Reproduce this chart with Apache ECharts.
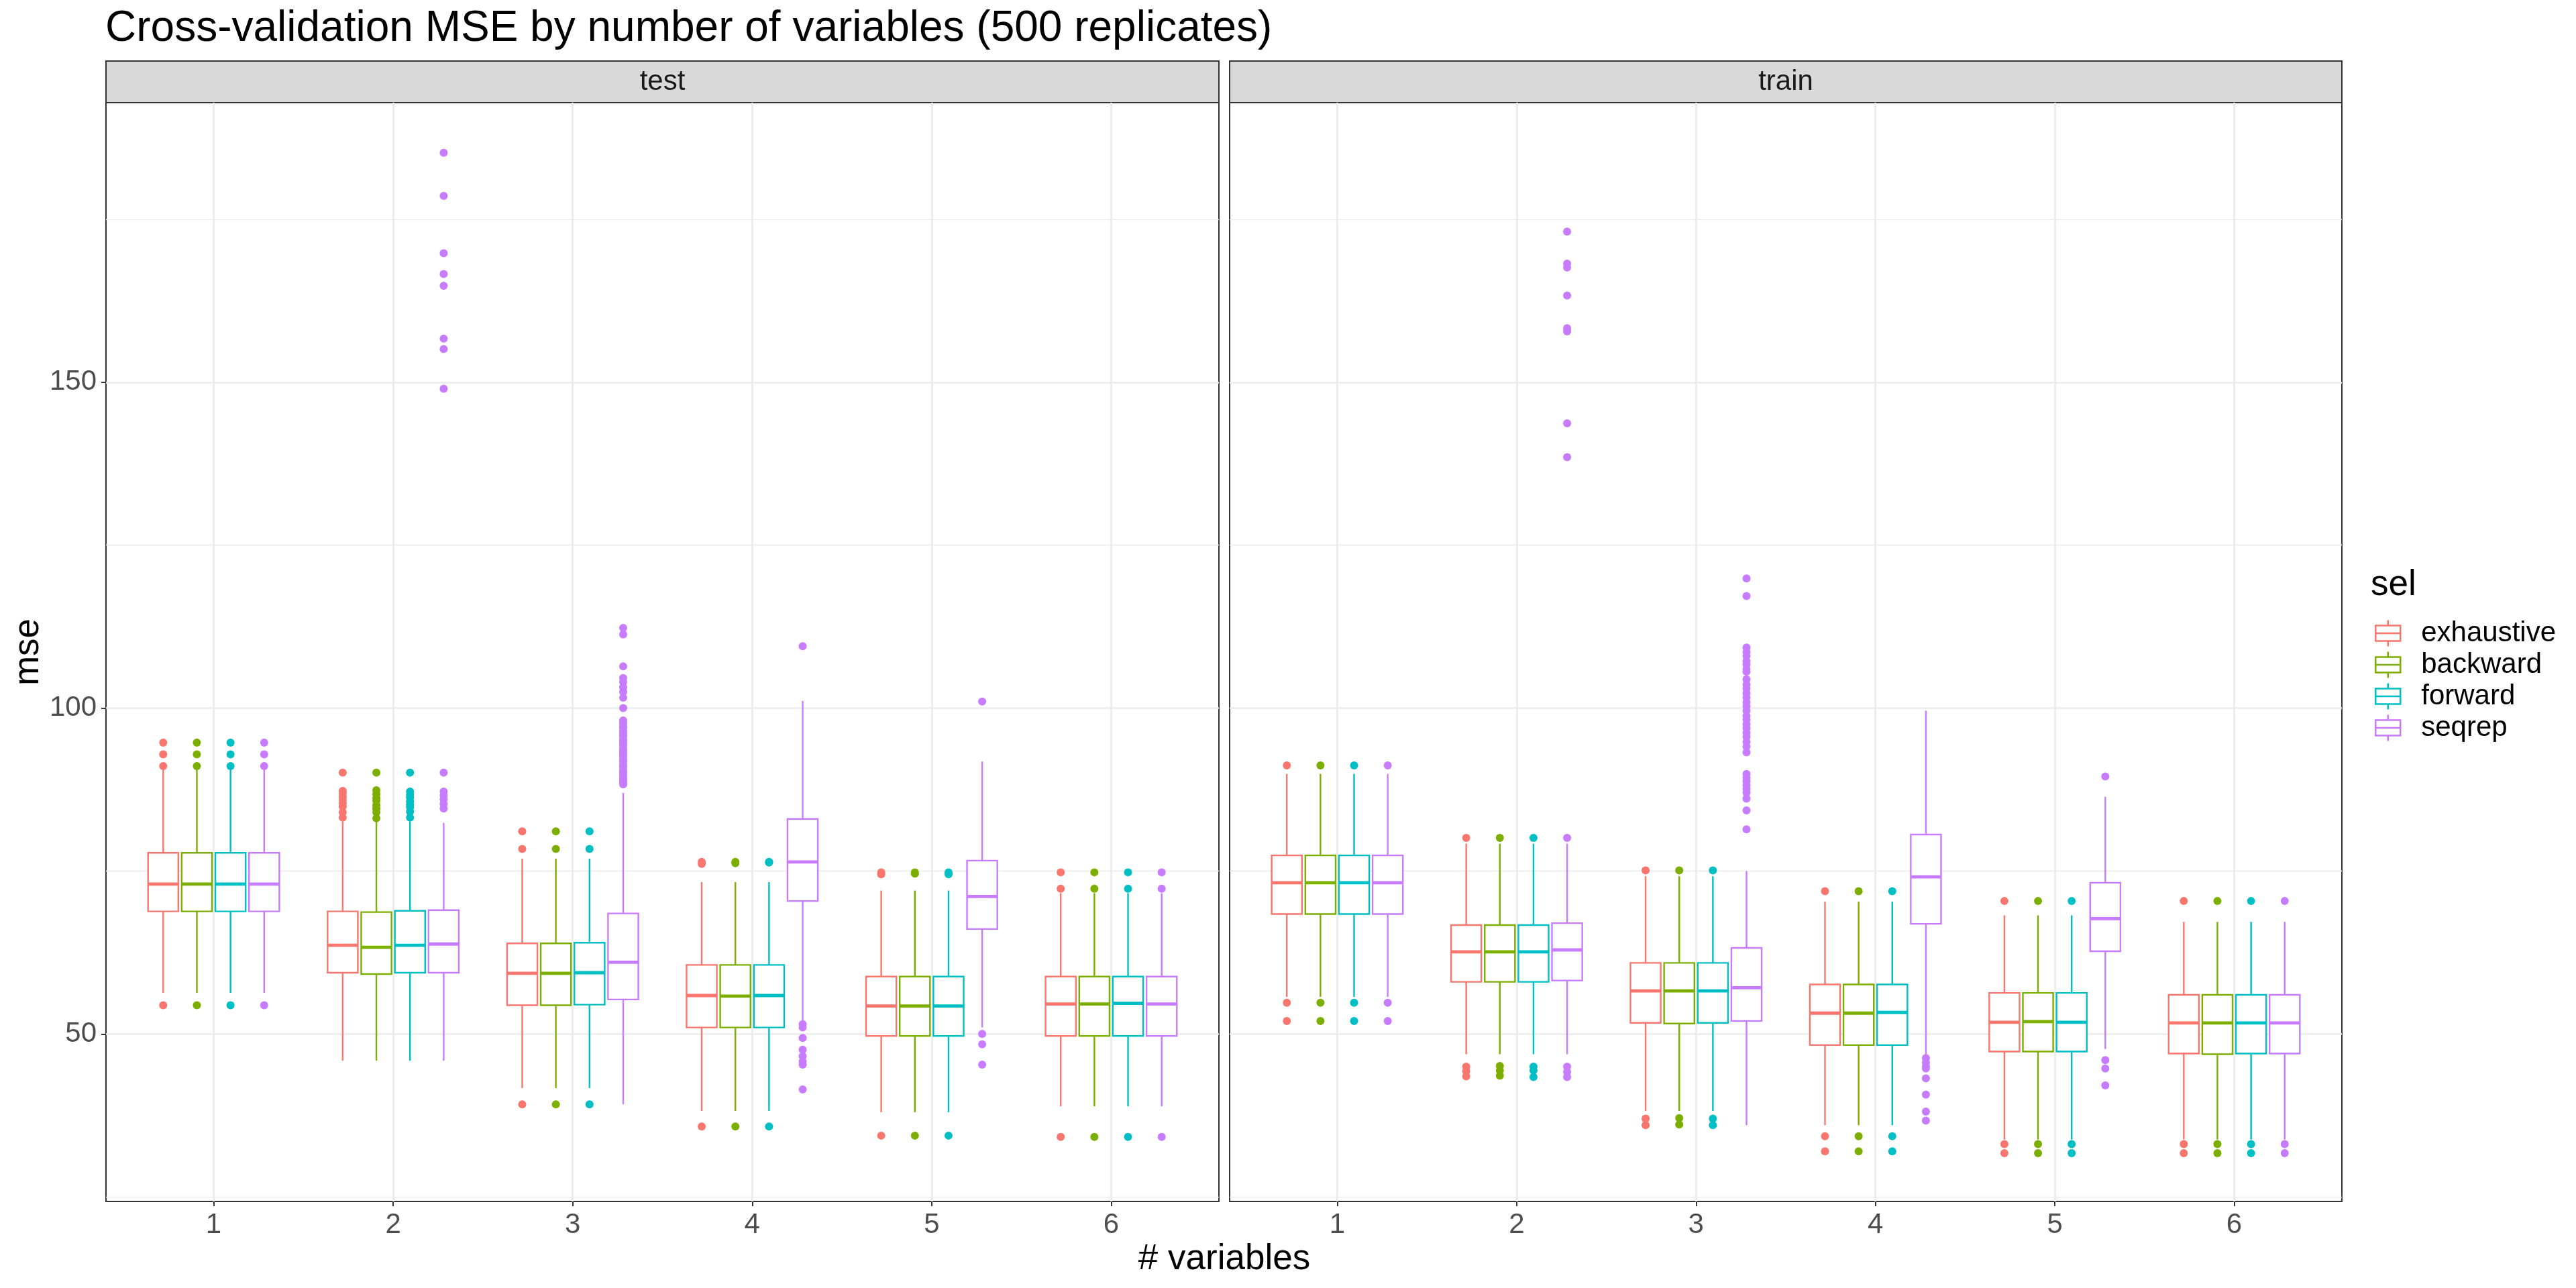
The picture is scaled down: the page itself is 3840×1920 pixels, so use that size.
<!DOCTYPE html>
<html>
<head>
<meta charset="utf-8">
<title>Cross-validation MSE</title>
<script src="https://cdn.jsdelivr.net/npm/echarts@6/dist/echarts.min.js"></script>
<style>
  html, body { margin: 0; padding: 0; background: #fff; }
  #main { width: 3840px; height: 1920px; }
</style>
</head>
<body>
<div id="main"></div>
<script>
// x categories (# variables), fill groups, facets
var nvars = [1, 2, 3, 4, 5, 6];
var methods = ['exhaustive', 'backward', 'forward', 'seqrep'];
var panels = ['test', 'train'];
var yTicks = [50, 100, 150];
var yMinor = [25, 75, 125, 175];

// box stats per # variables: [lower whisker, Q1, median, Q3, upper whisker]
var testExhaustive = [
  [56.3, 68.8, 73.0, 77.8, 90.7], [45.9, 59.4, 63.6, 68.8, 82.6], [41.7, 54.4, 59.3, 63.9, 76.9],
  [38.2, 51.0, 55.9, 60.6, 73.3], [38.0, 49.7, 54.3, 58.8, 72.0], [38.9, 49.7, 54.6, 58.8, 71.6]
];
var testBackward = [
  [56.3, 68.8, 73.0, 77.8, 90.7], [45.9, 59.2, 63.3, 68.7, 82.6], [41.7, 54.4, 59.3, 63.9, 76.9],
  [38.2, 51.0, 55.8, 60.6, 73.3], [38.0, 49.7, 54.3, 58.8, 72.0], [38.9, 49.7, 54.6, 58.8, 71.6]
];
var testForward = [
  [56.3, 68.8, 73.0, 77.8, 90.7], [45.9, 59.4, 63.6, 68.9, 82.6], [41.7, 54.5, 59.4, 64.0, 76.9],
  [38.2, 51.0, 55.9, 60.6, 73.3], [38.0, 49.7, 54.3, 58.8, 72.0], [38.9, 49.7, 54.7, 58.8, 71.6]
];
var testSeqrep = [
  [56.3, 68.8, 73.0, 77.8, 90.7], [45.9, 59.4, 63.8, 69.0, 82.4], [39.2, 55.3, 61.0, 68.5, 87.0],
  [52.0, 70.4, 76.4, 83.0, 101.1], [51.0, 66.1, 71.1, 76.6, 91.8], [38.9, 49.7, 54.6, 58.8, 71.6]
];
var trainExhaustive = [
  [55.7, 68.4, 73.2, 77.4, 89.9], [46.9, 58.0, 62.6, 66.7, 79.2], [38.2, 51.7, 56.6, 60.9, 74.2],
  [36.0, 48.3, 53.2, 57.6, 70.3], [33.8, 47.3, 51.8, 56.3, 68.2], [33.8, 47.0, 51.7, 56.0, 67.2]
];
var trainBackward = [
  [55.7, 68.4, 73.2, 77.4, 89.9], [46.9, 58.0, 62.6, 66.7, 79.2], [38.2, 51.6, 56.6, 60.9, 74.2],
  [36.0, 48.3, 53.2, 57.6, 70.3], [33.8, 47.3, 51.9, 56.3, 68.2], [33.8, 46.9, 51.7, 56.0, 67.2]
];
var trainForward = [
  [55.7, 68.4, 73.2, 77.4, 89.9], [46.9, 58.0, 62.6, 66.7, 79.2], [38.2, 51.7, 56.6, 60.9, 74.2],
  [36.0, 48.3, 53.3, 57.6, 70.3], [33.8, 47.3, 51.8, 56.3, 68.2], [33.8, 47.0, 51.7, 56.0, 67.2]
];
var trainSeqrep = [
  [55.7, 68.4, 73.2, 77.4, 89.9], [46.9, 58.2, 62.9, 67.0, 79.2], [36.0, 52.0, 57.1, 63.2, 75.0],
  [46.8, 66.9, 74.1, 80.6, 99.6], [47.7, 62.7, 67.7, 73.2, 86.4], [33.8, 47.0, 51.7, 56.0, 67.2]
];

// outliers: [# variables, mse]
var testExhaustiveOut = [
  [1, 94.7], [1, 92.9], [1, 91.1], [1, 54.4],
  [2, 90.1], [2, 87.3], [2, 86.9], [2, 86.4], [2, 85.9], [2, 85.4], [2, 84.9], [2, 84.0], [2, 83.2],
  [3, 81.1], [3, 78.4], [3, 39.2], [4, 76.4], [4, 76.1], [4, 35.8],
  [5, 74.8], [5, 74.5], [5, 34.4], [6, 74.8], [6, 72.3], [6, 34.2]
];
var testBackwardOut = [
  [1, 94.7], [1, 92.9], [1, 91.1], [1, 54.4],
  [2, 90.1], [2, 87.4], [2, 86.8], [2, 86.2], [2, 85.8], [2, 85.1], [2, 84.6], [2, 84.0], [2, 83.1],
  [3, 81.1], [3, 78.4], [3, 39.2], [4, 76.4], [4, 76.2], [4, 35.8],
  [5, 74.8], [5, 74.6], [5, 34.4], [6, 74.8], [6, 72.3], [6, 34.2]
];
var testForwardOut = [
  [1, 94.7], [1, 92.9], [1, 91.1], [1, 54.4],
  [2, 90.1], [2, 87.2], [2, 86.7], [2, 86.3], [2, 85.7], [2, 85.2], [2, 84.8], [2, 84.1], [2, 83.2],
  [3, 81.1], [3, 78.4], [3, 39.2], [4, 76.4], [4, 76.3], [4, 35.8],
  [5, 74.8], [5, 74.5], [5, 34.4], [6, 74.8], [6, 72.3], [6, 34.2]
];
var testSeqrepOut = [
  [1, 94.7], [1, 92.9], [1, 91.1], [1, 54.4],
  [2, 185.2], [2, 178.6], [2, 169.8], [2, 166.6], [2, 164.8], [2, 156.7], [2, 155.1], [2, 149.0],
  [2, 90.1], [2, 87.2], [2, 86.6], [2, 86.0], [2, 85.3], [2, 84.6],
  [3, 112.3], [3, 111.3], [3, 106.4], [3, 104.6], [3, 104.0], [3, 103.2], [3, 102.5], [3, 101.6],
  [3, 100.0], [3, 98.1], [3, 97.7], [3, 97.2], [3, 96.9], [3, 96.4], [3, 96.0], [3, 95.6], [3, 95.1],
  [3, 94.7], [3, 94.3], [3, 93.8], [3, 93.4], [3, 93.0], [3, 92.7], [3, 92.2], [3, 91.8], [3, 91.3],
  [3, 91.0], [3, 90.5], [3, 90.1], [3, 89.7], [3, 89.3], [3, 89.0], [3, 88.6], [3, 88.3],
  [4, 109.5], [4, 51.5], [4, 51.0], [4, 49.4], [4, 47.6], [4, 46.6], [4, 45.8], [4, 45.3], [4, 41.5],
  [5, 101.0], [5, 50.0], [5, 48.4], [5, 45.3],
  [6, 74.8], [6, 72.3], [6, 34.2]
];
var trainExhaustiveOut = [
  [1, 91.2], [1, 54.8], [1, 52.0], [2, 80.1], [2, 45.0], [2, 44.3], [2, 43.5],
  [3, 75.1], [3, 37.0], [3, 36.0], [4, 71.9], [4, 34.3], [4, 32.0],
  [5, 70.4], [5, 33.1], [5, 31.7], [6, 70.4], [6, 33.1], [6, 31.7]
];
var trainBackwardOut = [
  [1, 91.2], [1, 54.8], [1, 52.0], [2, 80.1], [2, 45.1], [2, 44.4], [2, 43.6],
  [3, 75.1], [3, 37.1], [3, 36.1], [4, 71.9], [4, 34.3], [4, 32.0],
  [5, 70.4], [5, 33.1], [5, 31.7], [6, 70.4], [6, 33.1], [6, 31.7]
];
var trainForwardOut = [
  [1, 91.2], [1, 54.8], [1, 52.0], [2, 80.1], [2, 45.0], [2, 44.4], [2, 43.4],
  [3, 75.1], [3, 37.0], [3, 36.0], [4, 71.9], [4, 34.3], [4, 32.0],
  [5, 70.4], [5, 33.1], [5, 31.7], [6, 70.4], [6, 33.1], [6, 31.7]
];
var trainSeqrepOut = [
  [1, 91.2], [1, 54.8], [1, 52.0],
  [2, 173.1], [2, 168.2], [2, 167.6], [2, 163.3], [2, 158.3], [2, 157.8], [2, 143.7], [2, 138.5],
  [2, 80.1], [2, 45.0], [2, 44.2], [2, 43.4],
  [3, 119.9], [3, 117.2], [3, 109.3], [3, 108.6], [3, 108.0], [3, 107.2], [3, 106.7], [3, 106.0],
  [3, 105.6], [3, 104.4], [3, 103.6], [3, 103.0], [3, 102.3], [3, 101.6], [3, 100.9], [3, 100.3],
  [3, 99.6], [3, 98.8], [3, 98.2], [3, 97.5], [3, 96.9], [3, 96.2], [3, 95.6], [3, 94.8], [3, 94.1],
  [3, 93.2], [3, 89.9], [3, 89.3], [3, 88.8], [3, 88.2], [3, 87.6], [3, 87.0], [3, 86.1], [3, 84.3], [3, 81.4],
  [4, 46.3], [4, 45.6], [4, 45.0], [4, 44.7], [4, 43.2], [4, 40.7], [4, 38.1], [4, 36.7],
  [5, 89.5], [5, 46.0], [5, 44.7], [5, 42.1],
  [6, 70.4], [6, 33.1], [6, 31.7]
];

var FONT = '"Liberation Sans", Arial, sans-serif';
var COLORS = ['#F8766D', '#7CAE00', '#00BFC4', '#C77CFF'];
var DODGE = 0.1875;      // spacing of the 4 boxes inside one x category
var BOX_W = 0.16875;     // box width in x units
var Y_MIN = 24.3, Y_MAX = 192.9;
var GRIDS = [
  {left: 158, top: 153, width: 1659, height: 1638},
  {left: 1833, top: 153, width: 1658, height: 1638}
];

var boxStats = [
  [testExhaustive, testBackward, testForward, testSeqrep],
  [trainExhaustive, trainBackward, trainForward, trainSeqrep]
];
var outliers = [
  [testExhaustiveOut, testBackwardOut, testForwardOut, testSeqrepOut],
  [trainExhaustiveOut, trainBackwardOut, trainForwardOut, trainSeqrepOut]
];

function renderBox(params, api) {
  var x = api.value(0);
  var lo = api.coord([x, api.value(1)]);
  var q1 = api.coord([x, api.value(2)]);
  var md = api.coord([x, api.value(3)]);
  var q3 = api.coord([x, api.value(4)]);
  var hi = api.coord([x, api.value(5)]);
  var w = api.size([BOX_W, 0])[0];
  var c = api.visual('color');
  return {
    type: 'group',
    children: [
      {type: 'line', shape: {x1: hi[0], y1: hi[1], x2: q3[0], y2: q3[1]}, style: {stroke: c, lineWidth: 2.4}},
      {type: 'line', shape: {x1: q1[0], y1: q1[1], x2: lo[0], y2: lo[1]}, style: {stroke: c, lineWidth: 2.4}},
      {type: 'rect', shape: {x: q3[0] - w / 2, y: q3[1], width: w, height: q1[1] - q3[1]},
        style: {fill: '#ffffff', stroke: c, lineWidth: 2.4}},
      {type: 'line', shape: {x1: md[0] - w / 2, y1: md[1], x2: md[0] + w / 2, y2: md[1]},
        style: {stroke: c, lineWidth: 4.8}}
    ]
  };
}

var xAxes = [], yAxes = [], series = [];
panels.forEach(function (p, pi) {
  xAxes.push({
    type: 'value', gridIndex: pi, min: 0.4, max: 6.6,
    axisLine: {show: false},
    axisTick: {show: true, customValues: nvars, length: 7, lineStyle: {color: '#333333', width: 2}},
    axisLabel: {customValues: nvars, margin: 14, fontSize: 42, color: '#4D4D4D', fontFamily: FONT},
    splitLine: {show: true, lineStyle: {color: '#EBEBEB', width: 2.7}}
  });
  yAxes.push({
    type: 'value', gridIndex: pi, min: Y_MIN, max: Y_MAX, position: 'left',
    axisLine: {show: false},
    axisTick: {show: pi === 0, customValues: yTicks, length: 7, lineStyle: {color: '#333333', width: 2}},
    axisLabel: {show: pi === 0, customValues: yTicks, margin: 14, fontSize: 42, color: '#4D4D4D', fontFamily: FONT},
    splitLine: {show: true, lineStyle: {color: '#EBEBEB', width: 2.7}}
  });
});
panels.forEach(function (p, pi) {
  // minor horizontal grid lines
  yAxes.push({
    type: 'value', gridIndex: pi, min: Y_MIN, max: Y_MAX,
    axisLine: {show: false},
    axisTick: {show: false, customValues: yMinor},
    axisLabel: {show: false, customValues: yMinor},
    splitLine: {show: true, lineStyle: {color: '#EBEBEB', width: 1.4}}
  });
});

panels.forEach(function (p, pi) {
  methods.forEach(function (m, mi) {
    var off = (mi - 1.5) * DODGE;
    series.push({
      type: 'custom', name: m, xAxisIndex: pi, yAxisIndex: pi, z: 3, silent: true,
      itemStyle: {color: COLORS[mi], borderColor: COLORS[mi]},
      renderItem: renderBox,
      encode: {x: 0, y: [1, 2, 3, 4, 5]},
      data: boxStats[pi][mi].map(function (b, k) { return [nvars[k] + off].concat(b); })
    });
  });
});
panels.forEach(function (p, pi) {
  methods.forEach(function (m, mi) {
    var off = (mi - 1.5) * DODGE;
    series.push({
      type: 'scatter', name: m, xAxisIndex: pi, yAxisIndex: pi, z: 4, silent: true,
      symbol: 'circle', symbolSize: 12,
      itemStyle: {color: COLORS[mi], opacity: 1},
      data: outliers[pi][mi].map(function (o) { return [o[0] + off, o[1]]; })
    });
  });
});

var graphics = [];
panels.forEach(function (p, pi) {
  var g = GRIDS[pi];
  graphics.push({type: 'rect', shape: {x: g.left, y: 91, width: g.width, height: 62},
    style: {fill: '#D9D9D9', stroke: '#333333', lineWidth: 2}});
  graphics.push({type: 'text', x: g.left + g.width / 2, y: 122.5,
    style: {text: p, fontSize: 42, fontFamily: FONT, fill: '#1A1A1A', align: 'center', verticalAlign: 'middle'}});
});
graphics.push({type: 'text', x: 42, y: 972, rotation: Math.PI / 2,
  style: {text: 'mse', fontSize: 53, fontFamily: FONT, fill: '#000', align: 'center', verticalAlign: 'middle'}});
graphics.push({type: 'text', x: 1825, y: 1877,
  style: {text: '# variables', fontSize: 53, fontFamily: FONT, fill: '#000', align: 'center', verticalAlign: 'middle'}});
graphics.push({type: 'text', x: 3534, y: 872.5,
  style: {text: 'sel', fontSize: 53, fontFamily: FONT, fill: '#000', align: 'left', verticalAlign: 'middle'}});

var myChart = echarts.init(document.getElementById('main'));
myChart.setOption({
  backgroundColor: '#ffffff',
  animation: false,
  title: {
    text: 'Cross-validation MSE by number of variables (500 replicates)',
    left: 157, top: 11, padding: 0,
    textStyle: {fontSize: 64, fontWeight: 'normal', color: '#000', fontFamily: FONT}
  },
  grid: GRIDS.map(function (g) {
    return {left: g.left, top: g.top, width: g.width, height: g.height,
      show: true, backgroundColor: '#ffffff', borderColor: '#333333', borderWidth: 2};
  }),
  xAxis: xAxes,
  yAxis: yAxes,
  legend: {
    orient: 'vertical', left: 3540, top: 923, padding: 0,
    itemWidth: 37, itemHeight: 39, itemGap: 5,
    selectedMode: false,
    icon: 'path://M18.5,0L18.5,8M0,8L37,8L37,31L0,31ZM0,19.5L37,19.5M18.5,31L18.5,39',
    data: methods.map(function (m, i) {
      return {name: m, itemStyle: {color: '#ffffff', borderColor: COLORS[i], borderWidth: 2.5}};
    }),
    formatter: function (name) { return '{t|' + name + '}'; },
    textStyle: {
      fontSize: 42, color: '#000', fontFamily: FONT,
      rich: {t: {fontSize: 42, color: '#000', fontFamily: FONT, padding: [0, 0, 0, 26]}}
    }
  },
  graphic: graphics,
  series: series
});
</script>
</body>
</html>
